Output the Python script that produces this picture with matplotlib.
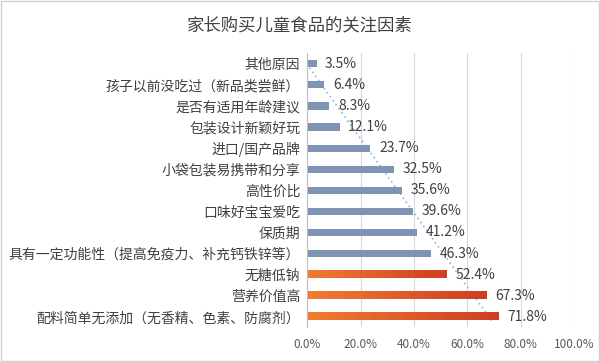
import numpy as np
import matplotlib
matplotlib.use("Agg")
import matplotlib.pyplot as plt
from matplotlib.ticker import FuncFormatter

plt.rcParams['font.family'] = ['Noto Sans CJK SC', 'DejaVu Sans']

categories = [
    "其他原因",
    "孩子以前没吃过（新品类尝鲜）",
    "是否有适用年龄建议",
    "包装设计新颖好玩",
    "进口/国产品牌",
    "小袋包装易携带和分享",
    "高性价比",
    "口味好宝宝爱吃",
    "保质期",
    "具有一定功能性（提高免疫力、补充钙铁锌等）",
    "无糖低钠",
    "营养价值高",
    "配料简单无添加（无香精、色素、防腐剂）",
]
values = [3.5, 6.4, 8.3, 12.1, 23.7, 32.5, 35.6, 39.6, 41.2, 46.3, 52.4, 67.3, 71.8]
highlight = [False] * 10 + [True] * 3
x_ticks = [0, 20, 40, 60, 80, 100]

fig = plt.figure(figsize=(6, 3.62), dpi=100)
fig.patch.set_facecolor("white")
ax = fig.add_axes([0.512, 0.097, 0.445, 0.757])

y = np.arange(len(categories))
bar_h = 0.34
blue = "#7F94B5"
cmap = matplotlib.colors.LinearSegmentedColormap.from_list("o", ["#F07C32", "#CF3E22"])
for i, (v, hl) in enumerate(zip(values, highlight)):
    if hl:
        # orange bar with left-to-right gradient
        grad = np.linspace(0, 1, 256).reshape(1, -1)
        ax.imshow(grad, extent=[0, v, i + bar_h / 2, i - bar_h / 2], aspect="auto",
                  cmap=cmap, zorder=3)
    else:
        ax.barh(i, v, height=bar_h, color=blue, zorder=3)
    ax.text(v + 3.2, i, f"{v:.1f}%", va="center", ha="left", fontsize=10,
            color="#404040", zorder=4)

# linear trend line (dotted)
coef = np.polyfit(y, values, 1)
tx = np.array([-0.2, len(y) - 1 + 0.2])
ax.plot(np.polyval(coef, tx), tx, ls=(0, (1, 2)), color="#8EB4E3", lw=1.2, zorder=2)

ax.set_xlim(0, 100)
ax.set_ylim(len(y) - 0.52, -0.52)
ax.set_xticks(x_ticks)
ax.xaxis.set_major_formatter(FuncFormatter(lambda v, p: f"{v:.1f}%"))
ax.set_yticks(y)
ax.set_yticklabels(categories, fontsize=10, color="#404040")
ax.tick_params(axis="x", labelsize=8.5, colors="#595959", length=0, pad=8)
ax.tick_params(axis="y", length=0, pad=5)
ax.grid(axis="x", color="#D9D9D9", lw=0.8, zorder=0)
for s in ["top", "right", "bottom"]:
    ax.spines[s].set_visible(False)
ax.spines["left"].set_color("#BFBFBF")
ax.spines["left"].set_zorder(5)

fig.text(0.5, 0.93, "家长购买儿童食品的关注因素", ha="center", va="center",
         fontsize=12.5, color="#404040")

# outer border
fig.add_artist(plt.Rectangle((0.002, 0.003), 0.996, 0.994, transform=fig.transFigure,
                             fill=False, edgecolor="#D0D0D0", lw=1))

fig.savefig("out.png", dpi=100, facecolor="white")
